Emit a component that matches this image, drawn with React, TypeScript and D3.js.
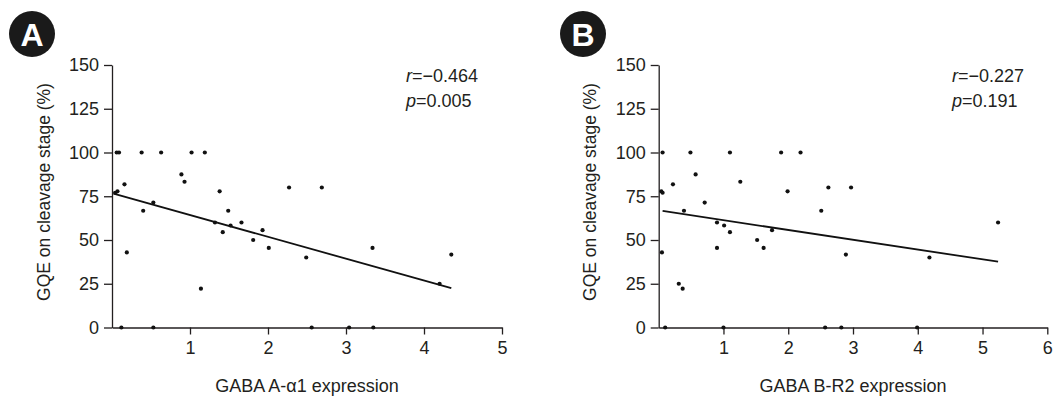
import { useEffect, useRef } from "react";
import * as d3 from "d3";

// Panel A: GABA A-alpha1 expression vs GQE
const aX = [0.06, 0.09, 0.38, 0.63, 1.02, 1.19, 0.89, 0.93, 0.16, 0.04, 0.07, 1.38, 2.27, 2.69, 0.53, 0.40, 1.49, 1.32, 1.66, 1.52, 1.42, 1.93, 1.81, 2.01, 0.19, 2.49, 3.34, 4.35, 4.20, 1.14, 0.12, 0.53, 2.56, 3.04, 3.35];
const aY = [100, 100, 100, 100, 100, 100, 87.5, 83.3, 81.8, 77.0, 77.8, 77.8, 80, 80, 71.4, 66.7, 66.7, 60, 60, 58.3, 54.5, 55.6, 50, 45.5, 42.9, 40, 45.5, 41.7, 25, 22.2, 0, 0, 0, 0, 0];
const aFitX = [0.02, 4.35];
const aFitY = [76.5, 22.5];

// Panel B: GABA B-R2 expression vs GQE
const bX = [0.06, 0.49, 1.10, 1.89, 2.19, 0.57, 0.22, 1.26, 0.04, 0.06, 1.99, 2.62, 2.97, 0.71, 0.39, 2.51, 0.90, 5.24, 1.01, 1.10, 1.75, 1.52, 0.90, 1.62, 0.05, 2.89, 4.18, 0.31, 0.37, 0.10, 1.00, 2.57, 2.82, 3.99];
const bY = [100, 100, 100, 100, 100, 87.5, 81.8, 83.3, 77.8, 77.0, 77.8, 80, 80, 71.4, 66.7, 66.7, 60, 60, 58.3, 54.5, 55.6, 50, 45.5, 45.5, 42.9, 41.7, 40, 25, 22.2, 0, 0, 0, 0, 0];
const bFitX = [0.06, 5.24];
const bFitY = [66.6, 37.6];

const yTicks = [0, 25, 50, 75, 100, 125, 150];

const panels = [
  { letter: "A", xs: aX, ys: aY, fx: aFitX, fy: aFitY, xMax: 5, x0: 112, x1: 502, xLabel: "GABA A-\u03b11 expression", r: "\u22120.464", p: "0.005", noteX: 406, badgeX: 32, yLabelX: 45 },
  { letter: "B", xs: bX, ys: bY, fx: bFitX, fy: bFitY, xMax: 6, x0: 658.7, x1: 1047.3, xLabel: "GABA B-R2 expression", r: "\u22120.227", p: "0.191", noteX: 952, badgeX: 583, yLabelX: 591 },
];

const FONT = "'Liberation Sans', Arial, sans-serif";
const INK = "#231f20";

const App = () => {
  const svgRef = useRef(null);

  useEffect(() => {
    const svg = d3.select(svgRef.current);
    svg.selectAll("*").remove();

    const y = d3.scaleLinear().domain([0, 150]).range([327.5, 65]);

    panels.forEach((pn) => {
      const x = d3.scaleLinear().domain([0, pn.xMax]).range([pn.x0, pn.x1]);
      const g = svg.append("g");

      // y axis
      const ya = g.append("g")
        .attr("transform", `translate(${pn.x0},0)`)
        .call(d3.axisLeft(y).tickValues(yTicks).tickSize(8).tickSizeOuter(0).tickPadding(5));
      // x axis
      const xa = g.append("g")
        .attr("transform", `translate(0,${y(0)})`)
        .call(
          d3.axisBottom(x)
            .tickValues(d3.range(1, pn.xMax + 1))
            .tickFormat(d3.format("d"))
            .tickSize(7)
            .tickSizeOuter(0)
            .tickPadding(7)
        );

      [ya, xa].forEach((a) => {
        a.selectAll("path, line").attr("stroke", INK).attr("stroke-width", 1.3);
        a.selectAll("text")
          .attr("fill", INK)
          .style("font-family", FONT)
          .style("font-size", "18px");
      });

      // regression line
      const line = d3.line().x((d) => x(d[0])).y((d) => y(d[1]));
      g.append("path")
        .attr("d", line(pn.fx.map((v, i) => [v, pn.fy[i]])))
        .attr("fill", "none")
        .attr("stroke", "#111")
        .attr("stroke-width", 1.8);

      // points
      g.selectAll(".pt")
        .data(pn.xs.map((v, i) => [v, pn.ys[i]]))
        .enter()
        .append("circle")
        .attr("cx", (d) => x(d[0]))
        .attr("cy", (d) => y(d[1]))
        .attr("r", 2.1)
        .attr("fill", "#111");

      // axis labels
      g.append("text")
        .attr("x", (pn.x0 + pn.x1) / 2)
        .attr("y", 391.5)
        .attr("text-anchor", "middle")
        .attr("fill", INK)
        .style("font-family", FONT)
        .style("font-size", "18px")
        .text(pn.xLabel);

      g.append("text")
        .attr("transform", `translate(${pn.yLabelX},192) rotate(-90)`)
        .attr("text-anchor", "middle")
        .attr("dominant-baseline", "middle")
        .attr("fill", INK)
        .style("font-family", FONT)
        .style("font-size", "17.5px")
        .text("GQE on cleavage stage (%)");

      // stats note
      const note = g.append("g")
        .style("font-family", FONT)
        .style("font-size", "18px")
        .attr("fill", INK);
      const t1 = note.append("text").attr("x", pn.noteX).attr("y", 82);
      t1.append("tspan").style("font-style", "italic").text("r");
      t1.append("tspan").text("=" + pn.r);
      const t2 = note.append("text").attr("x", pn.noteX).attr("y", 107);
      t2.append("tspan").style("font-style", "italic").text("p");
      t2.append("tspan").text("=" + pn.p);

      // panel badge
      g.append("circle")
        .attr("cx", pn.badgeX)
        .attr("cy", 34)
        .attr("r", 23)
        .attr("fill", "#1a1a1a");
      g.append("text")
        .attr("x", pn.badgeX)
        .attr("y", 35)
        .attr("text-anchor", "middle")
        .attr("dominant-baseline", "central")
        .attr("fill", "#fff")
        .style("font-family", FONT)
        .style("font-weight", "bold")
        .style("font-size", "32px")
        .text(pn.letter);
    });
  }, []);

  return (
    <svg
      ref={svgRef}
      width={1061}
      height={399}
      style={{ position: "absolute", left: 0, top: 0, background: "#fff" }}
    ></svg>
  );
};

export default App;
